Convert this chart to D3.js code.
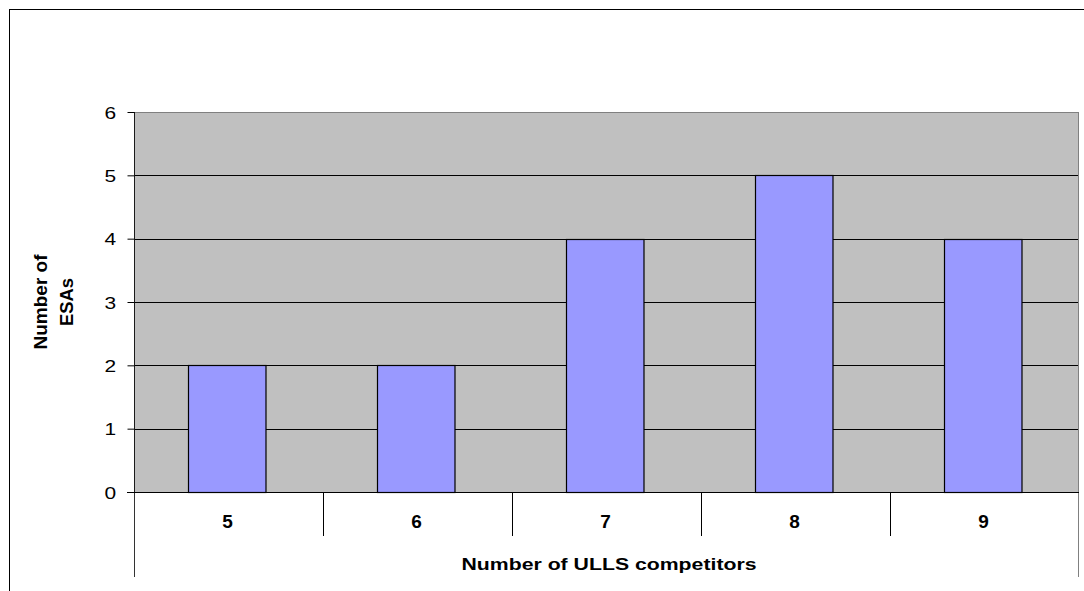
<!DOCTYPE html>
<html><head><meta charset="utf-8">
<script src="https://cdn.jsdelivr.net/npm/d3@7"></script>
<style>body{margin:0;background:#fff}svg{display:block}text{font-family:"Liberation Sans",Arial,sans-serif}</style>
</head><body>
<script>
const categories = ["5","6","7","8","9"];
const values = [2,2,4,5,4];
const yTicks = [0,1,2,3,4,5,6];
const xTitle = "Number of ULLS competitors";
const yTitle = ["Number of","ESAs"];

const W=1084,H=591;
const svg=d3.select("body").append("svg").attr("width",W).attr("height",H);
const L=134,R=1079,T=112,B=492;
svg.append("rect").attr("x",9.5).attr("y",9.5).attr("width",W+10).attr("height",H+10).attr("fill","#fff").attr("stroke","#000");
const x=d3.scaleBand().domain(categories).range([L-1.5,R-1.5]).paddingInner(0.59).paddingOuter(0.295);
const xc=d3.scaleBand().domain(categories).range([L,R]);
const y=d3.scaleLinear().domain([0,6]).range([B,T]);
svg.append("rect").attr("x",L).attr("y",T).attr("width",R-L).attr("height",B-T).attr("fill","#c0c0c0");
svg.append("g").selectAll("line").data(yTicks.slice(1,-1)).join("line")
 .attr("x1",L).attr("x2",R).attr("y1",d=>Math.round(y(d))+0.5).attr("y2",d=>Math.round(y(d))+0.5).attr("stroke","#000");
svg.append("rect").attr("x",L+0.5).attr("y",T+0.5).attr("width",R-L-1).attr("height",B-T).attr("fill","none").attr("stroke","#808080");
svg.append("g").selectAll("rect").data(values).join("rect")
 .attr("x",(d,i)=>Math.round(x(categories[i]))+0.5).attr("y",d=>Math.round(y(d))+0.5)
 .attr("width",x.bandwidth()).attr("height",d=>Math.round(y(0))-Math.round(y(d)))
 .attr("fill","#9999ff").attr("stroke","#000").attr("stroke-width",1.2);
const ya=d3.axisLeft(y).tickValues(yTicks).tickSize(7).tickPadding(0).tickFormat(d3.format("d"));
const gy=svg.append("g").attr("transform",`translate(${L+0.5},0)`).call(ya);
gy.select(".domain").remove();
gy.selectAll("line").attr("stroke","#000");
gy.selectAll("text").attr("font-size",17).attr("fill","#000").attr("dy","0.36em")
  .attr("x",0).attr("transform","translate(-18.5,0) scale(1.23,1)");
svg.append("line").attr("x1",L+0.5).attr("x2",L+0.5).attr("y1",T).attr("y2",577).attr("stroke","#000").attr("stroke-opacity",0.8);
svg.append("line").attr("x1",R-0.5).attr("x2",R-0.5).attr("y1",T).attr("y2",577).attr("stroke","#808080");
svg.append("line").attr("x1",L-7).attr("x2",R).attr("y1",B+0.5).attr("y2",B+0.5).attr("stroke","#000");
svg.append("g").selectAll("line").data(categories.slice(1)).join("line")
 .attr("x1",d=>Math.round(xc(d))+0.5).attr("x2",d=>Math.round(xc(d))+0.5).attr("y1",B).attr("y2",536).attr("stroke","#000");
svg.append("g").selectAll("text").data(categories).join("text")
 .attr("x",d=>xc(d)+xc.bandwidth()/2-1).attr("y",528).attr("text-anchor","middle")
 .attr("font-size",19).attr("font-weight","bold").text(d=>d);
svg.append("text").attr("x",461.5).attr("y",570).attr("font-size",17).attr("font-weight","bold")
 .attr("textLength",295).attr("lengthAdjust","spacingAndGlyphs").text(xTitle);
const yt=svg.append("g").attr("transform","translate(47,302) rotate(-90)");
yt.append("text").attr("x",-47.5).attr("y",0).attr("font-size",18).attr("font-weight","bold")
 .attr("textLength",95).attr("lengthAdjust","spacingAndGlyphs").text(yTitle[0]);
yt.append("text").attr("x",-24).attr("y",26).attr("font-size",18).attr("font-weight","bold")
 .attr("textLength",48).attr("lengthAdjust","spacingAndGlyphs").text(yTitle[1]);
</script>
</body></html>
